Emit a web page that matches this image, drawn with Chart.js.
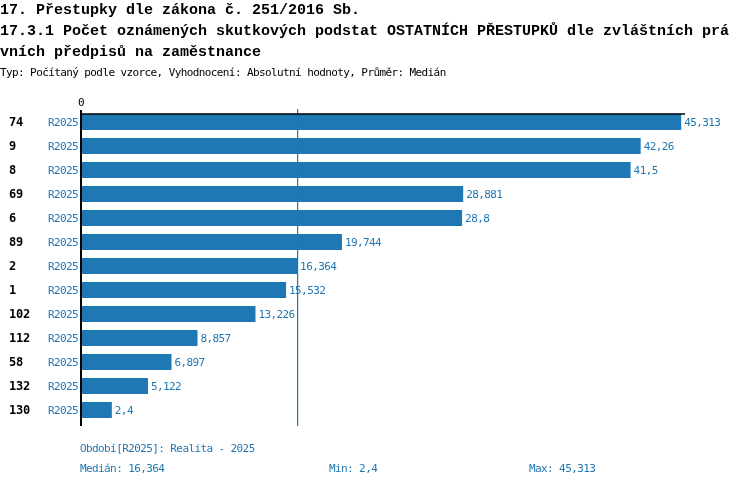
<!DOCTYPE html>
<html>
<head>
<meta charset="utf-8">
<script src="https://cdn.jsdelivr.net/npm/chart.js@4/dist/chart.umd.min.js"></script>
<style>
  html, body { margin: 0; padding: 0; background: #fff; }
  #wrap { width: 750px; height: 486px; }
</style>
</head>
<body>
<div id="wrap"><canvas id="chart" width="750" height="486"></canvas></div>
<script>
const titleLines = [
  '17. Přestupky dle zákona č. 251/2016 Sb.',
  '17.3.1 Počet oznámených skutkových podstat OSTATNÍCH PŘESTUPKŮ dle zvláštních prá',
  'vních předpisů na zaměstnance'
]
const subtitle = 'Typ: Počítaný podle vzorce, Vyhodnocení: Absolutní hodnoty, Průměr: Medián'
const categories = ['74', '9', '8', '69', '6', '89', '2', '1', '102', '112', '58', '132', '130']
const seriesName = 'R2025'
const values = [45.313, 42.26, 41.5, 28.881, 28.8, 19.744, 16.364, 15.532, 13.226, 8.857, 6.897, 5.122, 2.4]
const xTicks = [0]
const periodNote = 'Období[R2025]: Realita - 2025'

const blue = '#1f77b4'
const mono = '"DejaVu Sans Mono", "Liberation Mono", monospace'
const titleFont = '"Liberation Mono", "DejaVu Sans Mono", monospace'

// cislo s desetinnou carkou
const fmt = (v) => String(v).replace('.', ',')

const sorted = [...values].sort((a, b) => a - b)
const median = sorted[Math.floor(sorted.length / 2)]
const minVal = sorted[0]
const maxVal = sorted[sorted.length - 1]

// maly text: o neco vyssi pismo, ale sirka znaku 6px jako v predloze
const small = (ctx) => {
  ctx.font = '11px ' + mono
  ctx.letterSpacing = '-0.6px'
}

const overlay = {
  id: 'overlay',
  afterDatasetsDraw (chart) {
    const { ctx, chartArea, scales } = chart
    const xs = scales.x
    const ys = scales.y
    const bars = chart.getDatasetMeta(0).data
    const axisTop = bars[0].y - bars[0].height / 2
    const axisBottom = chartArea.bottom + (axisTop - chartArea.top)
    const x0 = xs.getPixelForValue(0)

    ctx.save()
    ctx.textBaseline = 'alphabetic'
    ctx.fillStyle = '#000'

    // nadpisy
    ctx.font = 'bold 15px ' + titleFont
    ctx.letterSpacing = '0px'
    ctx.textAlign = 'left'
    const titleBase = [14, 35, 56]
    titleLines.forEach((t, i) => ctx.fillText(t, 0, titleBase[i]))
    small(ctx)
    ctx.fillText(subtitle, 0, 76)

    // median - svisla cara
    const mx = Math.floor(xs.getPixelForValue(median))
    ctx.fillStyle = blue
    ctx.fillRect(mx, axisTop - 5, 1.2, axisBottom - axisTop + 5)

    // osy
    ctx.strokeStyle = '#000'
    ctx.lineWidth = 1.5
    ctx.beginPath()
    ctx.moveTo(x0, axisTop)
    ctx.lineTo(chartArea.right, axisTop)
    ctx.stroke()
    ctx.lineWidth = 2
    ctx.beginPath()
    ctx.moveTo(x0 + 1, axisTop - 4)
    ctx.lineTo(x0 + 1, axisBottom)
    ctx.stroke()

    // popisky osy x
    ctx.fillStyle = '#000'
    small(ctx)
    ctx.textAlign = 'center'
    xTicks.forEach((t) => ctx.fillText(String(t), xs.getPixelForValue(t) + 1, 106))

    // radky
    ctx.textBaseline = 'middle'
    categories.forEach((c, i) => {
      const y = ys.getPixelForValue(i) + 1
      ctx.fillStyle = '#000'
      ctx.font = 'bold 12px ' + mono
      ctx.letterSpacing = '-0.2px'
      ctx.textAlign = 'left'
      ctx.fillText(c, 9, y)
      ctx.fillStyle = blue
      small(ctx)
      ctx.textAlign = 'right'
      ctx.fillText(seriesName, 78, y)
      ctx.textAlign = 'left'
      ctx.fillText(fmt(values[i]), bars[i].x + 3, y)
    })

    // paticka
    ctx.textBaseline = 'alphabetic'
    ctx.fillStyle = blue
    small(ctx)
    ctx.textAlign = 'left'
    ctx.fillText(periodNote, 80, 452)
    ctx.fillText('Medián: ' + fmt(median), 80, 472)
    ctx.fillText('Min: ' + fmt(minVal), 329, 472)
    ctx.fillText('Max: ' + fmt(maxVal), 529, 472)
    ctx.restore()
  }
}

new Chart(document.getElementById('chart'), {
  type: 'bar',
  data: {
    labels: categories,
    datasets: [{
      label: seriesName,
      data: values,
      backgroundColor: blue,
      borderWidth: 0,
      categoryPercentage: 1,
      barPercentage: 0.667
    }]
  },
  options: {
    indexAxis: 'y',
    responsive: false,
    animation: false,
    devicePixelRatio: 1,
    layout: { padding: { left: 80, right: 65, top: 110, bottom: 64 } },
    scales: {
      x: { type: 'linear', min: 0, max: 45.6, display: false },
      y: { type: 'category', display: false, offset: true }
    },
    plugins: {
      legend: { display: false },
      tooltip: { enabled: false },
      title: { display: false }
    }
  },
  plugins: [overlay]
})
</script>
</body>
</html>
